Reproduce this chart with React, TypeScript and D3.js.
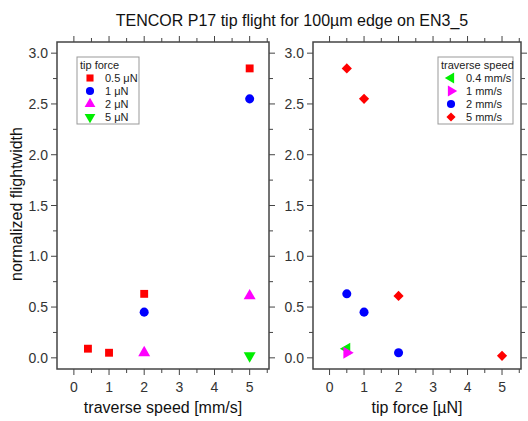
import React, { useEffect, useRef } from "react";
import * as d3 from "d3";

// left panel: x = traverse speed, series = tip force
const forceLabels = ["0.5 μN", "1 μN", "2 μN", "5 μN"];
const forceSpeeds = [[0.4, 1, 2, 5], [2, 5], [2, 5], [5]];
const forceValues = [[0.09, 0.05, 0.63, 2.85], [0.45, 2.55], [0.05, 0.61], [0.02]];

// right panel: x = tip force, series = traverse speed
const speedLabels = ["0.4 mm/s", "1 mm/s", "2 mm/s", "5 mm/s"];
const speedForces = [[0.5], [0.5], [0.5, 1, 2], [0.5, 1, 2, 5]];
const speedValues = [[0.09], [0.05], [0.63, 0.45, 0.05], [2.85, 2.55, 0.61, 0.02]];

const xTicks = [0, 1, 2, 3, 4, 5];
const yTicks = [0, 0.5, 1, 1.5, 2, 2.5, 3];

const FONT = "Liberation Sans, Arial, sans-serif";
const AXIS = "#444";
const TXT = "#333";

type Mark = { shape: string; color: string };
const forceMarks: Mark[] = [
  { shape: "square", color: "#ff0000" },
  { shape: "circle", color: "#0000ff" },
  { shape: "up", color: "#ff00ff" },
  { shape: "down", color: "#00ee00" },
];
const speedMarks: Mark[] = [
  { shape: "left", color: "#00ee00" },
  { shape: "right", color: "#ff00ff" },
  { shape: "circle", color: "#0000ff" },
  { shape: "diamond", color: "#ff0000" },
];

function drawMark(g: any, m: Mark, x: number, y: number, s = 1) {
  let type: any = d3.symbolCircle;
  let size = 64;
  let rot = 0;
  if (m.shape === "square") { type = d3.symbolSquare; size = 62; }
  if (m.shape === "diamond") { type = d3.symbolSquare; size = 52; rot = 45; }
  if (m.shape === "up") { type = d3.symbolTriangle; size = 62; }
  if (m.shape === "down") { type = d3.symbolTriangle; size = 62; rot = 180; }
  if (m.shape === "left") { type = d3.symbolTriangle; size = 62; rot = -90; }
  if (m.shape === "right") { type = d3.symbolTriangle; size = 62; rot = 90; }
  g.append("path")
    .attr("d", d3.symbol().type(type).size(size * s * s)())
    .attr("transform", `translate(${x},${y}) rotate(${rot})`)
    .attr("fill", m.color);
}

function panel(svg: any, left: number, right: number, xs: number[][], ys: number[][], marks: Mark[], xTitle: string) {
  const top = 42, bottom = 369;
  const x = d3.scaleLinear().domain([-0.48, 5.55]).range([left, right]);
  const y = d3.scaleLinear().domain([-0.11, 3.11]).range([bottom, top]);
  const g = svg.append("g");

  const minorX = d3.range(-0.5, 5.51, 0.5).filter((v) => v >= -0.48 && v <= 5.55);
  const minorY = d3.range(0, 3.01, 0.25);
  // x ticks bottom & top
  minorX.forEach((v) => {
    const major = Number.isInteger(v);
    const len = major ? 6 : 4;
    g.append("line").attr("x1", x(v)).attr("x2", x(v)).attr("y1", bottom).attr("y2", bottom + len).attr("stroke", AXIS).attr("stroke-width", 1);
    g.append("line").attr("x1", x(v)).attr("x2", x(v)).attr("y1", top).attr("y2", top - len).attr("stroke", AXIS).attr("stroke-width", 1);
  });
  minorY.forEach((v) => {
    const major = Math.abs(v * 2 - Math.round(v * 2)) < 1e-6;
    const len = major ? 6 : 4;
    g.append("line").attr("x1", left).attr("x2", left - len).attr("y1", y(v)).attr("y2", y(v)).attr("stroke", AXIS).attr("stroke-width", 1);
    g.append("line").attr("x1", right).attr("x2", right + len).attr("y1", y(v)).attr("y2", y(v)).attr("stroke", AXIS).attr("stroke-width", 1);
  });
  g.append("rect").attr("x", left).attr("y", top).attr("width", right - left).attr("height", bottom - top)
    .attr("fill", "none").attr("stroke", AXIS).attr("stroke-width", 1.5);

  xTicks.forEach((v) => {
    g.append("text").attr("x", x(v)).attr("y", bottom + 23).attr("text-anchor", "middle")
      .attr("font-family", FONT).attr("font-size", 14).attr("fill", TXT).text(String(v));
  });
  yTicks.forEach((v) => {
    g.append("text").attr("x", left - 9).attr("y", y(v) + 5).attr("text-anchor", "end")
      .attr("font-family", FONT).attr("font-size", 14).attr("fill", TXT).text(v.toFixed(1));
  });
  g.append("text").attr("x", (left + right) / 2).attr("y", 413).attr("text-anchor", "middle")
    .attr("font-family", FONT).attr("font-size", 16).attr("fill", "#111").text(xTitle);

  xs.forEach((row, i) => {
    row.forEach((xv, j) => drawMark(g, marks[i], x(xv), y(ys[i][j])));
  });
  return g;
}

function legend(svg: any, bx: number, by: number, w: number, title: string, labels: string[], marks: Mark[]) {
  const g = svg.append("g");
  g.append("rect").attr("x", bx).attr("y", by).attr("width", w).attr("height", 67)
    .attr("fill", "white").attr("stroke", "#999").attr("stroke-width", 1);
  g.append("text").attr("x", bx + 3).attr("y", by + 12).attr("font-family", FONT).attr("font-size", 11)
    .attr("fill", "#222").text(title);
  labels.forEach((lab, i) => {
    const cy = by + 21 + i * 13;
    drawMark(g, marks[i], bx + 13, cy, 0.9);
    g.append("text").attr("x", bx + 28).attr("y", cy + 4).attr("font-family", FONT).attr("font-size", 11)
      .attr("fill", "#222").text(lab);
  });
}

const App = () => {
  const ref = useRef<SVGSVGElement>(null);

  useEffect(() => {
    if (!ref.current) return;
    const svg = d3.select(ref.current);
    svg.selectAll("*").remove();

    svg.append("text").attr("x", 292).attr("y", 26).attr("text-anchor", "middle")
      .attr("font-family", FONT).attr("font-size", 16).attr("fill", "#111")
      .text("TENCOR P17 tip flight for 100µm edge on EN3_5");

    svg.append("text").attr("transform", "translate(22,204) rotate(-90)").attr("text-anchor", "middle")
      .attr("font-family", FONT).attr("font-size", 16).attr("fill", "#111").text("normalized flightwidth");

    panel(svg, 57, 269, forceSpeeds, forceValues, forceMarks, "traverse speed [mm/s]");
    panel(svg, 313, 521, speedForces, speedValues, speedMarks, "tip force [µN]");

    legend(svg, 77, 57, 62, "tip force", forceLabels, forceMarks);
    legend(svg, 438, 57, 75, "traverse speed", speedLabels, speedMarks);
  }, []);

  return (
    <svg
      ref={ref}
      width={528}
      height={421}
      style={{ position: "absolute", left: 0, top: 0, background: "white" }}
    />
  );
};

export default App;
